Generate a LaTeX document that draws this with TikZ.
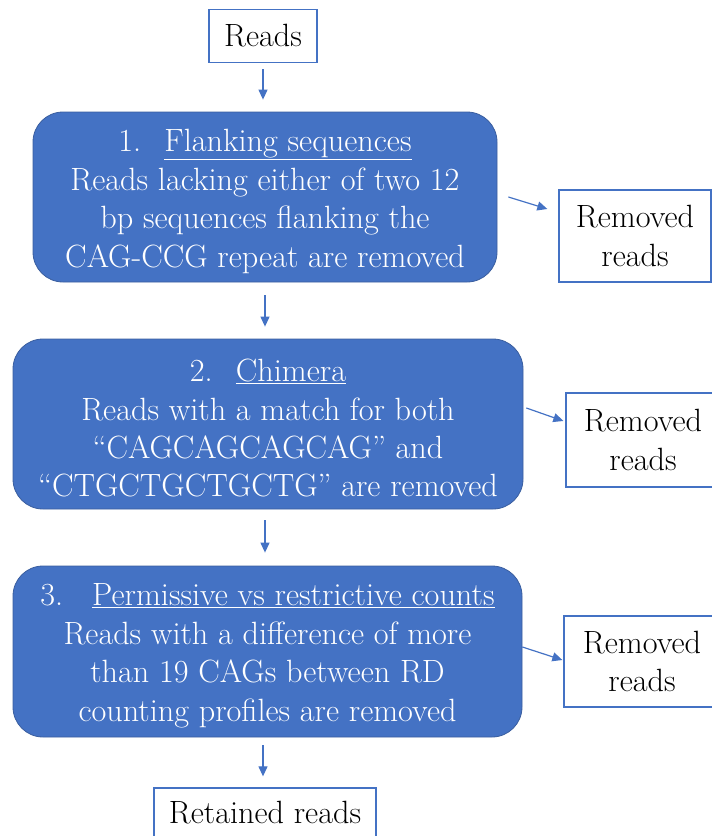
\documentclass[tikz,border=0pt]{standalone}
\usetikzlibrary{arrows.meta,calc}
\definecolor{stepblue}{HTML}{4472C4}
\definecolor{stepedge}{HTML}{3A5E9F}
\begin{document}
\begin{tikzpicture}[x=1pt,y=-1pt,
  every node/.style={font=\fontsize{32.2}{38.5}\selectfont, align=center, inner sep=0pt},
  stepbox/.style={fill=stepblue, draw=stepedge, line width=0.8pt, rounded corners=30pt, text=white},
  plainbox/.style={fill=white, draw=stepblue, line width=1.3pt, text=black},
  arr/.style={draw=stepblue, line width=1.2pt, -{Triangle[length=10pt,width=9pt]}}]
\useasboundingbox (0,0) rectangle (712,836);
\clip (0,0) rectangle (712,836);

% input
\node[plainbox, minimum width=108pt, minimum height=53pt] (reads) at (263,36) {Reads};

% filtering steps
\node[stepbox, minimum width=464pt, minimum height=170pt] (b1) at (265,197)
  {\rule{0pt}{31pt}1.\hspace{0.72em}\underline{Flanking sequences}\\
   Reads lacking either of two 12\\
   bp sequences flanking the\\
   CAG-CCG repeat are removed};
\node[stepbox, minimum width=510pt, minimum height=170pt] (b2) at (268,424)
  {\rule{0pt}{31pt}2.\hspace{0.72em}\underline{Chimera}\\
   Reads with a match for both\\
   “CAGCAGCAGCAG” and\\
   “CTGCTGCTGCTG” are removed};
\node[stepbox, minimum width=509pt, minimum height=171pt] (b3) at (267.5,651.5)
  {\rule{0pt}{31pt}3.\hspace{0.9em}\underline{Permissive vs restrictive counts}\\
   Reads with a difference of more\\
   than 19 CAGs between RD\\
   counting profiles are removed};

% discarded reads
\node[plainbox, minimum width=152pt, minimum height=92pt] (r1) at (635,236) {Removed\\reads};
\node[plainbox, minimum width=154pt, minimum height=94pt] (r2) at (643,440) {Removed\\reads};
\node[plainbox, minimum width=156pt, minimum height=91pt] (r3) at (642,661.5) {Removed\\reads};

% output
\node[plainbox, minimum width=222pt, minimum height=50pt] (ret) at (265,813) {Retained reads};

% main flow
\draw[arr, shorten <=6pt, shorten >=12pt] (reads.south) -- (reads.south |- b1.north);
\draw[arr, shorten <=13pt, shorten >=12pt] (b1.south) -- (b1.south |- b2.north);
\draw[arr, shorten <=11pt, shorten >=13pt] (b1.south |- b2.south) -- (b1.south |- b3.north);
\draw[arr, shorten <=8pt, shorten >=11pt] (reads.south |- b3.south) -- (reads.south |- ret.north);

% side branches
\draw[arr] ($(b1.east)+(11,0)$) -- ($(r1.west)+(-11,-27)$);
\draw[arr] ($(b2.east)+(3,-16)$) -- ($(r2.west)+(-2,-19)$);
\draw[arr] ($(b3.east)+(0,-4.5)$) -- ($(r3.west)+(-1,-1.5)$);
\end{tikzpicture}
\end{document}
